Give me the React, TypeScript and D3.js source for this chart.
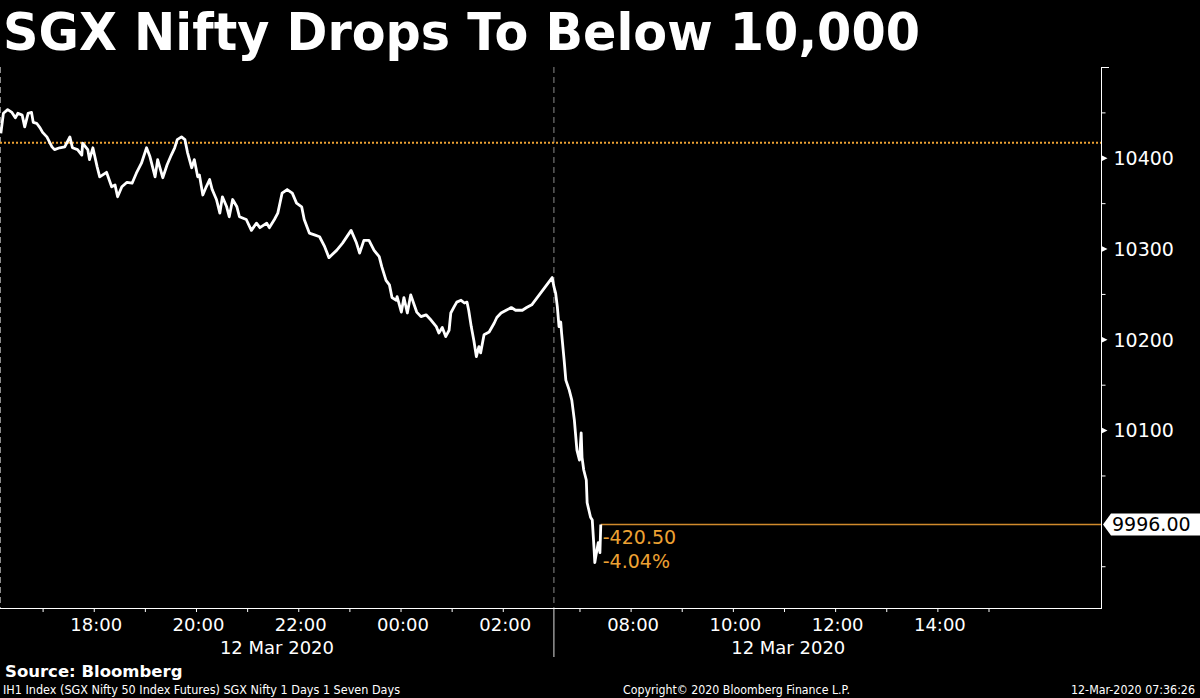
import * as d3 from 'd3';
import React from 'react';
import { useRef, useEffect } from 'react';

const title = 'SGX Nifty Drops To Below 10,000';

// T+1 evening session (11 Mar -> 12 Mar), local time
const leftTimes = [
  '16:11', '16:14', '16:19', '16:24', '16:28', '16:31', '16:36', '16:39', '16:43', '16:47',
  '16:49', '16:53', '16:57', '17:00', '17:05', '17:11', '17:14', '17:20', '17:26', '17:32',
  '17:35', '17:41', '17:46', '17:47', '17:53', '17:55', '17:59', '18:04', '18:07', '18:15',
  '18:21', '18:25', '18:28', '18:33', '18:39', '18:45', '18:50', '18:56', '19:02', '19:06',
  '19:12', '19:15', '19:21', '19:26', '19:31', '19:35', '19:38', '19:43', '19:47', '19:50',
  '19:55', '19:58', '20:02', '20:04', '20:08', '20:12', '20:16', '20:19', '20:24', '20:28',
  '20:31', '20:36', '20:39', '20:43', '20:48', '20:51', '20:59', '21:05', '21:11', '21:15',
  '21:23', '21:26', '21:32', '21:36', '21:41', '21:47', '21:53', '21:58', '22:04', '22:07',
  '22:13', '22:19', '22:25', '22:31', '22:36', '22:45', '22:52', '23:02', '23:08', '23:12',
  '23:17', '23:23', '23:29', '23:35', '23:38', '23:43', '23:47', '23:50', '23:55', '23:56',
  '00:01', '00:04', '00:08', '00:12', '00:16', '00:19', '00:24', '00:30', '00:36', '00:42',
  '00:45', '00:49', '00:53', '00:57', '00:59', '01:03', '01:06', '01:11', '01:15', '01:18',
  '01:20', '01:23', '01:26', '01:29', '01:32', '01:34', '01:38', '01:44', '01:50', '01:53',
  '01:58', '02:04', '02:10', '02:15', '02:23', '02:28', '02:34', '02:58',
];
const leftPrices = [
  10427, 10449, 10453, 10450, 10444, 10449, 10447, 10434, 10449, 10450,
  10439, 10438, 10433, 10428, 10423, 10412, 10409, 10411, 10412, 10423,
  10411, 10409, 10403, 10416, 10409, 10398, 10411, 10390, 10379, 10384,
  10368, 10370, 10357, 10368, 10373, 10372, 10383, 10394, 10411, 10401,
  10379, 10398, 10378, 10392, 10403, 10411, 10420, 10423, 10420, 10406,
  10389, 10398, 10379, 10381, 10359, 10368, 10376, 10365, 10354, 10339,
  10357, 10346, 10335, 10354, 10346, 10335, 10332, 10320, 10328, 10323,
  10328, 10323, 10332, 10339, 10361, 10365, 10361, 10350, 10346, 10332,
  10317, 10315, 10313, 10302, 10290, 10298, 10306, 10320, 10307, 10295,
  10309, 10309, 10298, 10291, 10280, 10265, 10260, 10246, 10243, 10247,
  10230, 10246, 10229, 10249, 10238, 10230, 10225, 10227, 10221, 10214,
  10207, 10213, 10203, 10210, 10229, 10236, 10241, 10243, 10240, 10241,
  10232, 10214, 10199, 10181, 10192, 10185, 10205, 10208, 10218, 10224,
  10229, 10232, 10235, 10232, 10232, 10235, 10238, 10268,
];

// T session, 12 Mar morning
const rightTimes = [
  '06:30', '06:32', '06:34', '06:36', '06:38', '06:39', '06:42', '06:44', '06:48', '06:51',
  '06:54', '06:57', '07:00', '07:02', '07:03', '07:05', '07:08', '07:09', '07:11', '07:13',
  '07:15', '07:17', '07:18', '07:19', '07:22', '07:24', '07:25',
];
const rightPrices = [
  10258, 10251, 10236, 10214, 10219, 10207, 10177, 10155, 10144, 10133,
  10111, 10078, 10067, 10097, 10070, 10056, 10045, 10020, 10012, 10004,
  10001, 9971, 9954, 9960, 9976, 9965, 9996,
];

const prevClose = 10416.5;
const yDomain = [9904, 10500];
const yMajorTicks = [10100, 10200, 10300, 10400];
const yMinorTicks = [9950, 10050, 10150, 10250, 10350, 10450];

const leftSession = ['16:10', '03:00'];
const rightSession = ['06:30', '15:40'];
const chartEnd = '17:12';
const leftHourTicks = ['17:00', '18:00', '19:00', '20:00', '21:00', '22:00', '23:00', '00:00', '01:00', '02:00'];
const rightHourTicks = ['07:00', '08:00', '09:00', '10:00', '11:00', '12:00', '13:00', '14:00', '15:00'];
const dateLabels = ['12 Mar 2020', '12 Mar 2020'];

const sourceText = 'Source: Bloomberg';
const tickerText = 'IH1 Index (SGX Nifty 50 Index Futures) SGX Nifty 1 Days 1 Seven Days';
const copyrightText = 'Copyright\u00A9 2020 Bloomberg Finance L.P.';
const stampText = '12-Mar-2020 07:36:26';

const width = 1200;
const height = 698;
const plotTop = 67;
const plotBottom = 608;
const plotRight = 1101;
const font = '"DejaVu Sans", Verdana, sans-serif';
const orange = '#eda233';

// minutes since 16:00 on 11 Mar
function toMinutes(t: string, nextDay: boolean) {
  const [h, m] = t.split(':').map(Number);
  return (h + (nextDay ? 24 : 0) - 16) * 60 + m;
}
const leftMin = (t: string) => toMinutes(t, +t.slice(0, 2) < 12);
const rightMin = (t: string) => toMinutes(t, true);

export default function App() {
  const svgRef = useRef<SVGSVGElement | null>(null);

  useEffect(() => {
    if (!svgRef.current) return;
    const svg = d3.select(svgRef.current);
    svg.selectAll('*').remove();

    const l0 = leftMin(leftSession[0]);
    const l1 = leftMin(leftSession[1]);
    const r0 = rightMin(rightSession[0]);
    const r1 = rightMin(chartEnd);
    const split = (plotRight * (l1 - l0)) / (l1 - l0 + r1 - r0);

    const x = d3.scaleLinear().domain([l0, l1, r0, r1]).range([0, split, split, plotRight]);
    const y = d3.scaleLinear().domain(yDomain).range([plotBottom, plotTop]);

    const data = [
      ...leftTimes.map((t, i) => ({ m: leftMin(t), v: leftPrices[i] })),
      ...rightTimes.map((t, i) => ({ m: rightMin(t), v: rightPrices[i] })),
    ];
    const last = data[data.length - 1];

    svg.append('rect').attr('width', width).attr('height', height).attr('fill', '#000');

    svg
      .append('text')
      .attr('x', 3)
      .attr('y', 50)
      .attr('font-family', font)
      .attr('font-weight', 'bold')
      .attr('font-size', 51)
      .attr('textLength', 917)
      .attr('lengthAdjust', 'spacingAndGlyphs')
      .attr('fill', '#fff')
      .text(title);

    // session dividers
    [x(l0) + 0.5, split].forEach((sx) => {
      svg
        .append('line')
        .attr('x1', sx)
        .attr('x2', sx)
        .attr('y1', plotTop)
        .attr('y2', plotBottom)
        .attr('stroke', '#8a8a8a')
        .attr('stroke-dasharray', '6,4');
    });
    svg
      .append('line')
      .attr('x1', split)
      .attr('x2', split)
      .attr('y1', plotBottom)
      .attr('y2', 657)
      .attr('stroke', '#ddd');

    // previous close
    svg
      .append('line')
      .attr('x1', 0)
      .attr('x2', plotRight)
      .attr('y1', y(prevClose))
      .attr('y2', y(prevClose))
      .attr('stroke', orange)
      .attr('stroke-width', 2)
      .attr('stroke-dasharray', '2,2');

    // last value line
    svg
      .append('line')
      .attr('x1', x(last.m))
      .attr('x2', plotRight)
      .attr('y1', y(last.v))
      .attr('y2', y(last.v))
      .attr('stroke', '#d08a2c')
      .attr('stroke-width', 1.5);

    const line = d3
      .line<{ m: number; v: number }>()
      .x((d) => x(d.m))
      .y((d) => y(d.v));

    svg
      .append('path')
      .datum(data)
      .attr('d', line)
      .attr('fill', 'none')
      .attr('stroke', '#fff')
      .attr('stroke-width', 2.8)
      .attr('stroke-linejoin', 'round');

    const change = last.v - prevClose;
    const pct = (change / prevClose) * 100;
    const ann = svg
      .append('g')
      .attr('font-family', font)
      .attr('font-size', 19)
      .attr('fill', orange);
    ann.append('text').attr('x', x(last.m) + 2).attr('y', 544).text(change.toFixed(2));
    ann.append('text').attr('x', x(last.m) + 2).attr('y', 568).text(pct.toFixed(2) + '%');

    // x axis
    const hourTicks = [
      ...leftHourTicks.map((t) => ({ m: leftMin(t), t })),
      ...rightHourTicks.map((t) => ({ m: rightMin(t), t })),
    ];
    const xAxis = d3
      .axisBottom(x)
      .tickValues(hourTicks.map((d) => d.m))
      .tickSize(4)
      .tickSizeOuter(0)
      .tickPadding(6)
      .tickFormat((_, i) => {
        const t = hourTicks[i].t;
        return +t.slice(0, 2) % 2 === 0 ? t : '';
      });
    const gx = svg
      .append('g')
      .attr('transform', `translate(0,${plotBottom})`)
      .style('color', '#fff')
      .call(xAxis);
    gx.select('.domain').remove();
    gx.selectAll('text').attr('font-family', font).attr('font-size', 18).attr('dx', 2);

    svg
      .append('line')
      .attr('x1', 0)
      .attr('x2', plotRight + 0.5)
      .attr('y1', plotBottom + 0.5)
      .attr('y2', plotBottom + 0.5)
      .attr('stroke', '#fff');

    const dateX = [(x(l0) + x(l1)) / 2, (x(r0) + x(rightMin(rightSession[1]))) / 2];
    svg
      .append('g')
      .attr('font-family', font)
      .attr('font-size', 18)
      .attr('fill', '#fff')
      .attr('text-anchor', 'middle')
      .selectAll('text')
      .data(dateLabels)
      .join('text')
      .attr('x', (_, i) => dateX[i])
      .attr('y', 654)
      .text((d) => d);

    // y axis
    const yAxis = d3
      .axisRight(y)
      .tickValues([...yMinorTicks, ...yMajorTicks])
      .tickSize(4)
      .tickSizeOuter(0)
      .tickPadding(8)
      .tickFormat((d) => (yMajorTicks.includes(+d) ? String(d) : ''));
    const gy = svg
      .append('g')
      .attr('transform', `translate(${plotRight + 0.5},0)`)
      .style('color', '#fff')
      .call(yAxis);
    gy.select('.domain').remove();
    gy.selectAll('text').attr('font-family', font).attr('font-size', 19).attr('dy', '0.36em');
    gy.selectAll<SVGGElement, number>('.tick')
      .filter((d) => yMajorTicks.includes(d))
      .each(function () {
        const t = d3.select(this);
        t.select('line').remove();
        t.append('path').attr('d', 'M0,-3L6,0L0,3Z').attr('fill', '#fff');
      });

    svg
      .append('line')
      .attr('x1', plotRight + 0.5)
      .attr('x2', plotRight + 0.5)
      .attr('y1', plotTop)
      .attr('y2', plotBottom + 1)
      .attr('stroke', '#fff');
    svg
      .append('line')
      .attr('x1', plotRight)
      .attr('x2', plotRight + 8)
      .attr('y1', plotTop + 0.5)
      .attr('y2', plotTop + 0.5)
      .attr('stroke', '#fff');

    // last value tag
    const ly = y(last.v);
    svg
      .append('path')
      .attr('d', `M${plotRight + 2},${ly}L${plotRight + 10},${ly - 11}L${width},${ly - 11}L${width},${ly + 11}L${plotRight + 10},${ly + 11}Z`)
      .attr('fill', '#fff');
    svg
      .append('text')
      .attr('x', plotRight + 11)
      .attr('y', ly + 7)
      .attr('font-family', font)
      .attr('font-size', 19)
      .attr('fill', '#000')
      .text(last.v.toFixed(2));

    // footer
    svg
      .append('text')
      .attr('x', 5)
      .attr('y', 677)
      .attr('font-family', font)
      .attr('font-weight', 'bold')
      .attr('font-size', 16.5)
      .attr('fill', '#fff')
      .text(sourceText);

    const foot = svg.append('g').attr('font-family', font).attr('font-size', 11.5).attr('fill', '#fff');
    [
      { t: tickerText, x: 3, w: 397 },
      { t: copyrightText, x: 623, w: 227 },
      { t: stampText, x: 1071, w: 124 },
    ].forEach((f) => {
      foot
        .append('text')
        .attr('x', f.x)
        .attr('y', 694)
        .attr('textLength', f.w)
        .attr('lengthAdjust', 'spacingAndGlyphs')
        .text(f.t);
    });
  }, []);

  return (
    <svg
      ref={svgRef}
      width={width}
      height={height}
      style={{ position: 'absolute', left: 0, top: 0, display: 'block' }}
    />
  );
}
